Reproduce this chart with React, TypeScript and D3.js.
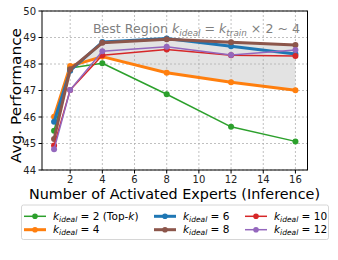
import React from "react";
import * as d3 from "d3";

const experts = [1, 2, 4, 8, 12, 16];
const kIdeal2 = [45.48, 47.85, 48.03, 46.86, 45.63, 45.08];
const kIdeal4 = [46.01, 47.92, 48.28, 47.67, 47.31, 47.01];
const kIdeal6 = [45.82, 47.75, 48.83, 48.96, 48.67, 48.38];
const kIdeal8 = [45.17, 47.8, 48.8, 48.93, 48.82, 48.72];
const kIdeal10 = [44.92, 47.02, 48.33, 48.55, 48.33, 48.3];
const kIdeal12 = [44.78, 47.02, 48.48, 48.65, 48.34, 48.53];
const xTicks = [2, 4, 6, 8, 10, 12, 14, 16];
const yTicks = [44, 45, 46, 47, 48, 49, 50];

const series = [
  { k: "2", suffix: " (Top-", values: kIdeal2, color: "#2ca02c", width: 1.5 },
  { k: "4", suffix: "", values: kIdeal4, color: "#ff7f0e", width: 3 },
  { k: "6", suffix: "", values: kIdeal6, color: "#1f77b4", width: 3 },
  { k: "8", suffix: "", values: kIdeal8, color: "#8c564b", width: 3 },
  { k: "10", suffix: "", values: kIdeal10, color: "#d62728", width: 1.5 },
  { k: "12", suffix: "", values: kIdeal12, color: "#9467bd", width: 1.5 },
];

const font = "DejaVu Sans";

export default function App() {
  const left = 42, right = 307.5, top = 11, bottom = 170;
  const x = d3.scaleLinear().domain([0.25, 16.75]).range([left, right]);
  const y = d3.scaleLinear().domain([44, 50]).range([bottom, top]);

  const line = d3
    .line<number>()
    .x((_, i) => x(experts[i]))
    .y((d) => y(d));

  // shaded best region between k=4 and k=8 from 2 experts on
  const idx = experts.map((_, i) => i).filter((i) => experts[i] >= 2);
  const area = d3
    .area<number>()
    .x((i) => x(experts[i]))
    .y0((i) => y(kIdeal4[i]))
    .y1((i) => y(kIdeal8[i]));

  const legendCols = [24, 154, 245];
  const legendRows = [216.3, 229.7];

  return (
    <svg width={338} height={260} style={{ position: "absolute", left: 0, top: 0 }} fontFamily={font}>
      <rect width={338} height={260} fill="#fff" />
      <path d={area(idx) || ""} fill="#e3e3e3" />
      {xTicks.map((t) => (
        <line key={"gx" + t} x1={x(t)} x2={x(t)} y1={top} y2={bottom} stroke="#b0b0b0" strokeWidth={0.8} strokeDasharray="2,2" />
      ))}
      {yTicks.map((t) => (
        <line key={"gy" + t} x1={left} x2={right} y1={y(t)} y2={y(t)} stroke="#b0b0b0" strokeWidth={0.8} strokeDasharray="2,2" />
      ))}
      <text x={300} y={32.5} textAnchor="end" fontSize={12.6} fill="#808080">
        Best Region{" "}
        <tspan fontStyle="italic">k</tspan>
        <tspan fontStyle="italic" fontSize={8.8} dy={3}>ideal</tspan>
        <tspan dy={-3}> = </tspan>
        <tspan fontStyle="italic">k</tspan>
        <tspan fontStyle="italic" fontSize={8.8} dy={3}>train</tspan>
        <tspan dy={-3}> × 2 ~ 4</tspan>
      </text>
      {series.map((s) => (
        <g key={s.k}>
          <path d={line(s.values) || ""} fill="none" stroke={s.color} strokeWidth={s.width} strokeLinejoin="round" />
          {s.values.map((v, i) => (
            <circle key={i} cx={x(experts[i])} cy={y(v)} r={3} fill={s.color} />
          ))}
        </g>
      ))}
      <rect x={left} y={top} width={right - left} height={bottom - top} fill="none" stroke="#000" strokeWidth={1} />
      {xTicks.map((t) => (
        <g key={"tx" + t}>
          <line x1={x(t)} x2={x(t)} y1={bottom} y2={bottom + 3.5} stroke="#000" />
          <text x={x(t)} y={bottom + 12.5} textAnchor="middle" fontSize={10} fill="#222">{t}</text>
        </g>
      ))}
      {yTicks.map((t) => (
        <g key={"ty" + t}>
          <line x1={left - 3.5} x2={left} y1={y(t)} y2={y(t)} stroke="#000" />
          <text x={left - 6} y={y(t) + 3.6} textAnchor="end" fontSize={10} fill="#222">{t}</text>
        </g>
      ))}
      <text x={29} y={198.5} fontSize={14} textLength={291} lengthAdjust="spacingAndGlyphs">
        Number of Activated Experts (Inference)
      </text>
      <text
        transform={`translate(20.5,95.5) rotate(-90)`}
        textAnchor="middle"
        fontSize={14.5}
        textLength={135}
        lengthAdjust="spacingAndGlyphs"
      >
        Avg. Performance
      </text>
      <rect x={21.5} y={205} width={307} height={34.5} rx={2} fill="#fff" stroke="#ccc" strokeWidth={0.8} />
      {series.map((s, i) => {
        const lx = legendCols[Math.floor(i / 2)];
        const ly = legendRows[i % 2];
        return (
          <g key={"lg" + s.k}>
            <line x1={lx} x2={lx + 22} y1={ly} y2={ly} stroke={s.color} strokeWidth={s.width} />
            <circle cx={lx + 11} cy={ly} r={2.8} fill={s.color} />
            <text x={lx + 29} y={ly + 3.3} fontSize={10.5}>
              <tspan fontStyle="italic">k</tspan>
              <tspan fontStyle="italic" fontSize={7.5} dy={2}>ideal</tspan>
              <tspan dy={-2}> = {s.k}{s.suffix}</tspan>
              {s.suffix ? <tspan fontStyle="italic">k</tspan> : null}
              {s.suffix ? <tspan>)</tspan> : null}
            </text>
          </g>
        );
      })}
    </svg>
  );
}
